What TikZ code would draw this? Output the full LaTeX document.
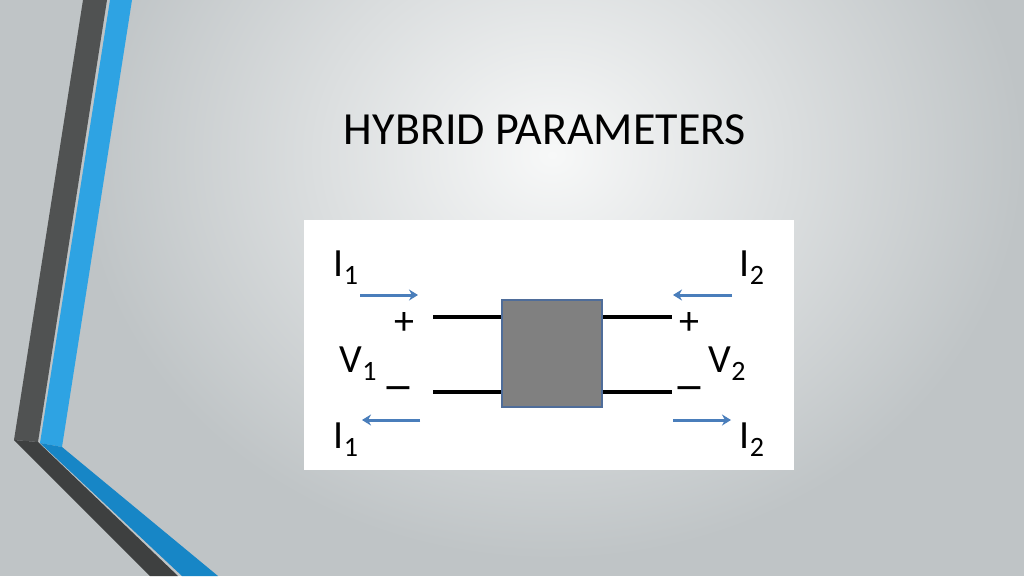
\documentclass[tikz,border=0pt]{standalone}
\usepackage{fontspec}
\setmainfont{Carlito}
\usetikzlibrary{arrows.meta, positioning}
\definecolor{bgedge}{HTML}{BFC4C6}
\definecolor{bgmid}{HTML}{F7F8F8}
\definecolor{darkband}{HTML}{505252}
\definecolor{darklow}{HTML}{3E4040}
\definecolor{blueband}{HTML}{2EA3E3}
\definecolor{bluelow}{HTML}{1786C6}
\definecolor{boxgray}{HTML}{808080}
\definecolor{boxedge}{HTML}{4F6D9A}
\definecolor{arrowblue}{HTML}{4A7EBB}
\newcommand{\sublbl}[2]{#1\raisebox{-8pt}{\fontsize{28}{28}\selectfont #2}}

\begin{document}
\begin{tikzpicture}[x=1pt, y=-1pt,
    lbl/.style={font=\fontsize{40}{40}\selectfont, inner sep=0pt},
    sgn/.style={font=\fontsize{40}{40}\selectfont, inner sep=0pt},
    wire/.style={line width=4pt},
    flow/.style={arrowblue, line width=3pt, -{Stealth[length=9pt,width=11pt]}}]
    % Background
    \useasboundingbox (0,0) rectangle (1024,576);
    \fill[bgedge] (0,0) rectangle (1024,576);
    \shade[inner color=bgmid, outer color=bgedge] (80,-250) rectangle (1024,560);

    % Left bands
    \fill[darkband] (83,0) -- (107,0) -- (38,442) -- (14,440) -- cycle;
    \fill[blueband] (110,0) -- (132,0) -- (62,447) -- (40,443) -- cycle;
    \fill[darklow] (14,440) -- (38,442) -- (178,576) -- (150,576) -- cycle;
    \fill[bluelow] (40,443) -- (62,447) -- (218,576) -- (182,576) -- cycle;

    % Title
    \node[font=\fontsize{46}{46}\selectfont] (title) at (545,130) {HYBRID PARAMETERS};

    % Panel and two-port box
    \fill[white] (304,220) rectangle (794,470);
    \node[draw=boxedge, line width=1.5pt, fill=boxgray, minimum width=100pt,
        minimum height=107pt, inner sep=0pt] (net) at (552,353.5) {};

    % Port wires
    \coordinate (p1) at (433,317);
    \coordinate (m1) at (433,392);
    \coordinate (p2) at (672,317);
    \coordinate (m2) at (672,392);
    \draw[wire] (p1) -- (p1 -| net.west);
    \draw[wire] (m1) -- (m1 -| net.west);
    \draw[wire] (net.east |- p2) -- (p2);
    \draw[wire] (net.east |- m2) -- (m2);

    % Current arrows
    \coordinate (a1s) at (360,295);
    \coordinate (a1e) at (418,295);
    \coordinate (b1s) at (420,420);
    \coordinate (b1e) at (362,420);
    \coordinate (a2s) at (732,295);
    \coordinate (a2e) at (673,295);
    \coordinate (b2s) at (673,420);
    \coordinate (b2e) at (731,420);
    \draw[flow] (a1s) -- (a1e);
    \draw[flow] (b1s) -- (b1e);
    \draw[flow] (a2s) -- (a2e);
    \draw[flow] (b2s) -- (b2e);

    % Labels
    \node[lbl] (i1t) at (346,268) {\sublbl{I}{1}};
    \node[lbl] (i1b) at (346,440) {\sublbl{I}{1}};
    \node[lbl] (i2t) at (752,268) {\sublbl{I}{2}};
    \node[lbl] (i2b) at (752,440) {\sublbl{I}{2}};
    \node[lbl] (v1) at (358,364) {\sublbl{V}{1}};
    \node[lbl] (v2) at (727,364) {\sublbl{V}{2}};
    \node[sgn] (pl1) at (404,323) {+};
    \node[sgn] (pl2) at (689,323) {+};
    \node[sgn] (mi1) at (398,394) {\scalebox{1.6}[1.2]{\textendash}};
    \node[sgn] (mi2) at (689,394) {\scalebox{1.6}[1.2]{\textendash}};
\end{tikzpicture}
\end{document}
